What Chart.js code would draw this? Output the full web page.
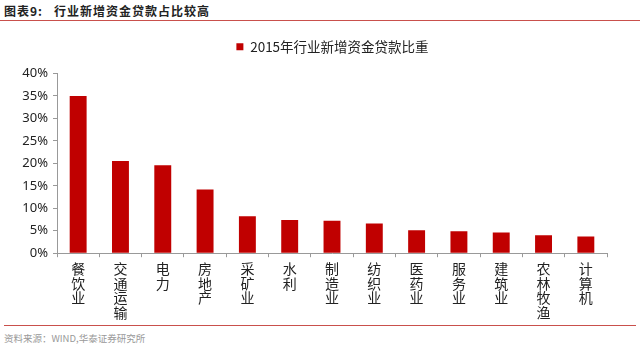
<!DOCTYPE html>
<html>
<head>
<meta charset="utf-8">
<script src="https://cdn.jsdelivr.net/npm/chart.js@4/dist/chart.umd.min.js"></script>
<style>
  html, body { margin: 0; padding: 0; background: #fff; }
  #page { position: relative; width: 640px; height: 353px; overflow: hidden; font-family: "Noto Sans CJK SC", sans-serif; }
  #title { position: absolute; left: 4px; top: 2px; font-size: 12px; font-weight: bold; color: #222; letter-spacing: 1px; white-space: nowrap; }
  #title .num { margin-right: 11px; }
  #topLine { position: absolute; left: 0; top: 20px; width: 640px; height: 1px; background: #c9504c; }
  #chartBox { position: absolute; left: 0; top: 22px; width: 640px; height: 302px; }
  #bottomLine { position: absolute; left: 4px; top: 325px; width: 632px; height: 1px; background: #c9504c; }
  #source { position: absolute; left: 4px; top: 331px; font-size: 9.5px; color: #999; white-space: nowrap; }
</style>
</head>
<body>
<div id="page">
  <div id="title"><span class="num">图表9:</span>行业新增资金贷款占比较高</div>
  <div id="topLine"></div>
  <div id="chartBox"><canvas id="chart"></canvas></div>
  <div id="bottomLine"></div>
  <div id="source">资料来源：WIND,华泰证券研究所</div>
</div>
<script>
  const categories = ["餐饮业", "交通运输", "电力", "房地产", "采矿业", "水利", "制造业", "纺织业", "医药业", "服务业", "建筑业", "农林牧渔", "计算机"];
  const shareValues = [35.0, 20.5, 19.6, 14.2, 8.2, 7.4, 7.2, 6.6, 5.1, 4.9, 4.6, 4.0, 3.7];
  const seriesName = "2015年行业新增资金贷款比重";
  const yTicks = [0, 5, 10, 15, 20, 25, 30, 35, 40];

  // vertical labels: one character per line
  const stackedLabels = categories.map(c => c.split(""));

  // extra space under the legend, and nudge it right a bit
  const legendTweak = {
    id: "legendTweak",
    beforeInit(chart) {
      const fit = chart.legend.fit;
      chart.legend.fit = function () {
        fit.call(this);
        this.height += 10;
      };
    },
    afterLayout(chart) {
      chart.legend.left += 29;
      chart.legend.right += 29;
    }
  };

  const ctx = document.getElementById("chart").getContext("2d");
  new Chart(ctx, {
    type: "bar",
    data: {
      labels: stackedLabels,
      datasets: [{
        label: seriesName,
        data: shareValues,
        backgroundColor: "#c00000",
        borderWidth: 0,
        barPercentage: 0.8,
        categoryPercentage: 0.5
      }]
    },
    plugins: [legendTweak],
    options: {
      responsive: true,
      maintainAspectRatio: false,
      animation: false,
      layout: { padding: { left: 0, right: 33, top: 0, bottom: 0 } },
      plugins: {
        legend: {
          display: true,
          labels: {
            boxWidth: 7,
            boxHeight: 7,
            padding: 18,
            color: "#222",
            font: { family: "Noto Sans CJK SC", size: 13.5 }
          }
        },
        tooltip: { enabled: false }
      },
      scales: {
        x: {
          grid: { display: true, drawOnChartArea: false, offset: true, tickLength: 4, color: "#999" },
          border: { color: "#999" },
          ticks: {
            color: "#222",
            maxRotation: 0,
            autoSkip: false,
            padding: 4,
            font: { family: "Noto Sans CJK SC", size: 14, lineHeight: 1.05 }
          }
        },
        y: {
          min: 0,
          max: 40,
          afterFit: s => { s.width = 57; },
          afterBuildTicks: s => { s.ticks = yTicks.map(v => ({ value: v })); },
          grid: { display: true, drawOnChartArea: false, tickLength: 4, color: "#999" },
          border: { color: "#999" },
          ticks: {
            color: "#222",
            padding: 5,
            font: { family: "Noto Sans", size: 13 },
            callback: v => v + "%"
          }
        }
      }
    }
  });
</script>
</body>
</html>
